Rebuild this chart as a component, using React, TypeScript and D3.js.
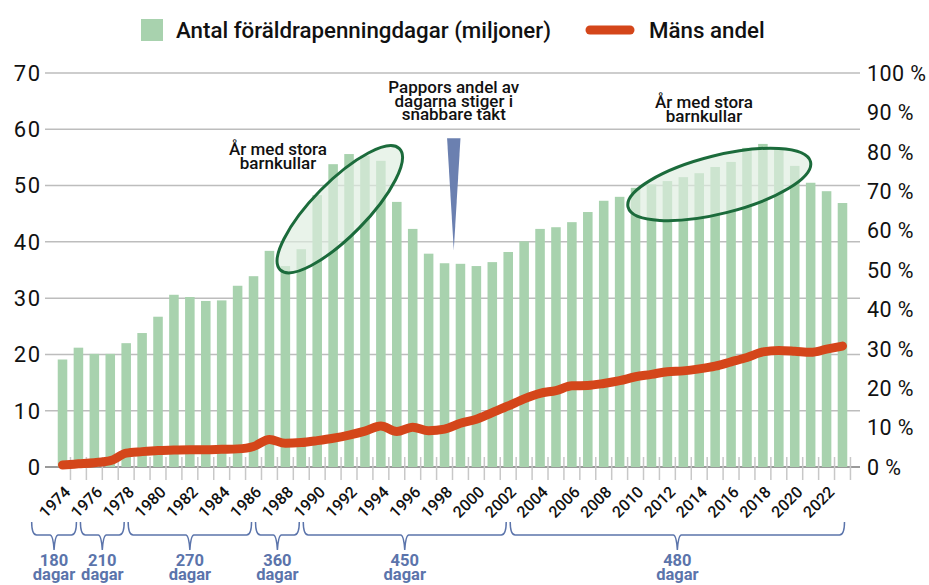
import React from "react";
import * as d3 from "d3";

// år på x-axeln
const years = [
  1974, 1975, 1976, 1977, 1978, 1979, 1980, 1981, 1982, 1983,
  1984, 1985, 1986, 1987, 1988, 1989, 1990, 1991, 1992, 1993,
  1994, 1995, 1996, 1997, 1998, 1999, 2000, 2001, 2002, 2003,
  2004, 2005, 2006, 2007, 2008, 2009, 2010, 2011, 2012, 2013,
  2014, 2015, 2016, 2017, 2018, 2019, 2020, 2021, 2022, 2023,
];

// antal föräldrapenningdagar, miljoner
const dagar = [
  19.1, 21.2, 20.1, 20.1, 22.0, 23.8, 26.7, 30.6, 30.2, 29.5,
  29.6, 32.2, 33.9, 38.4, 35.7, 38.7, 48.3, 53.8, 55.6, 55.3,
  54.4, 47.1, 42.3, 37.9, 36.2, 36.1, 35.7, 36.4, 38.2, 40.1,
  42.3, 42.6, 43.5, 45.3, 47.3, 48.0, 49.6, 50.2, 50.8, 51.5,
  52.2, 53.3, 54.2, 56.7, 57.4, 56.7, 53.5, 50.5, 49.0, 46.9,
];

// männens andel, procent
const mansAndel = [
  0.5, 0.8, 1.1, 1.6, 3.5, 3.9, 4.2, 4.3, 4.4, 4.4,
  4.5, 4.6, 5.2, 7.0, 6.0, 6.2, 6.7, 7.3, 8.1, 9.1,
  10.4, 9.0, 10.1, 9.2, 9.6, 11.1, 12.1, 13.8, 15.5, 17.3,
  18.7, 19.4, 20.6, 20.7, 21.2, 21.9, 22.9, 23.5, 24.2, 24.4,
  24.9, 25.6, 26.7, 27.8, 29.2, 29.6, 29.4, 29.1, 29.9, 30.7,
];

const leftTicks = [0, 10, 20, 30, 40, 50, 60, 70];
const rightTicks = [0, 10, 20, 30, 40, 50, 60, 70, 80, 90, 100];

// perioder med antal dagar (gränser i år)
const periodGranser = [1972, 1975, 1978, 1986, 1989, 2002, 2023];
const periodDagar = [180, 210, 270, 360, 450, 480];

const W = 929;
const H = 585;
const FONT = "Roboto, 'Liberation Sans', Arial, sans-serif";
const BAR = "#a8d2ae";
const ORANGE = "#d4461a";
const BLUE = "#5b74ab";
const DARKGREEN = "#1b6b3b";

export default function App() {
  const x = d3
    .scaleBand<number>()
    .domain(years)
    .range([45, 860])
    .paddingInner(0.4)
    .paddingOuter(0.8);
  const bw = x.bandwidth();
  const step = x.step();
  const xc = (yr: number) => (x(yr) as number) + bw / 2;
  const xYear = d3
    .scaleLinear()
    .domain([years[0], years[years.length - 1]])
    .range([xc(years[0]), xc(years[years.length - 1])]);

  const yL = d3.scaleLinear().domain([0, 70]).range([467, 73]);
  const yR = d3.scaleLinear().domain([0, 100]).range([467, 73]);

  const line = d3
    .line<number>()
    .x((_, i) => xc(years[i]))
    .y((d) => yR(d))
    .curve(d3.curveMonotoneX);

  const tickXs = years.map((yr) => (x(yr) as number) + bw + (step - bw) / 2);

  const brace = (x1: number, x2: number) => {
    const yt = 522, ym = 535, yb = 550;
    const m = (x1 + x2) / 2;
    return `M${x1},${yt} C${x1},${ym - 5} ${x1 + 1},${ym} ${x1 + 5},${ym}
      L${m - 4},${ym} Q${m - 1},${ym} ${m},${yb} Q${m + 1},${ym} ${m + 4},${ym}
      L${x2 - 5},${ym} C${x2 - 1},${ym} ${x2},${ym - 5} ${x2},${yt}`;
  };

  // annotationer i dataenheter
  const ell1 = { cx: xYear(1991.42), cy: yL(45.8) };
  const ell2 = { cx: xYear(2015.26), cy: yL(50.2) };
  const wedgeX = xYear(1998.58);

  return (
    <svg
      width={W}
      height={H}
      style={{ position: "absolute", left: 0, top: 0, background: "#fff" }}
      fontFamily={FONT}
    >
      {/* legend */}
      <rect x={141} y={19} width={22} height={22} fill={BAR} />
      <text x={176} y={38} fontSize={22.3} fontWeight={500} fill="#111">
        Antal föräldrapenningdagar (miljoner)
      </text>
      <line x1={590} x2={630} y1={30} y2={30} stroke={ORANGE} strokeWidth={9} strokeLinecap="round" />
      <text x={649} y={38} fontSize={22.3} fontWeight={500} fill="#111">
        Mäns andel
      </text>

      {/* rutnät */}
      {leftTicks.map((t) => (
        <line key={"g" + t} x1={45} x2={860} y1={yL(t)} y2={yL(t)}
          stroke={t === 0 ? "#9a9a9a" : "#bdbdbd"} strokeWidth={t === 0 ? 2 : 1.5} />
      ))}
      {leftTicks.map((t) => (
        <text key={"l" + t} x={41.5} y={yL(t)} dy="0.36em" textAnchor="end" fontSize={22}
          letterSpacing={1.5} fill="#111">
          {t}
        </text>
      ))}
      {rightTicks.map((t) => (
        <text key={"r" + t} x={867} y={yR(t)} dy="0.36em" fontSize={21.5} letterSpacing={0.4}
          fill="#111">
          {t + " %"}
        </text>
      ))}

      {/* tickmarks */}
      {tickXs.map((tx, i) => (
        <line key={"t" + i} x1={tx} x2={tx} y1={457} y2={480} stroke="#c8c8c8" strokeWidth={1.5} />
      ))}

      {/* staplar */}
      {years.map((yr, i) => (
        <rect key={yr} x={x(yr)} y={yL(dagar[i])} width={bw} height={yL(0) - yL(dagar[i])} fill={BAR} />
      ))}

      {/* ellipser */}
      <ellipse cx={ell1.cx} cy={ell1.cy} rx={85} ry={27}
        transform={`rotate(-45.5 ${ell1.cx} ${ell1.cy})`}
        fill="rgb(222,237,224)" fillOpacity={0.67} stroke={DARKGREEN} strokeWidth={3} />
      <ellipse cx={ell2.cx} cy={ell2.cy} rx={94} ry={29}
        transform={`rotate(-14 ${ell2.cx} ${ell2.cy})`}
        fill="rgb(222,237,224)" fillOpacity={0.67} stroke={DARKGREEN} strokeWidth={3} />

      {/* linje */}
      <path d={line(mansAndel) as string} fill="none" stroke={ORANGE} strokeWidth={9}
        strokeLinecap="round" strokeLinejoin="round" />

      {/* kil */}
      <path d={`M${wedgeX - 6.7},${yL(58.4)} L${wedgeX + 6.7},${yL(58.4)} L${wedgeX},${yL(38.5)} Z`} fill="#6b80b0" />

      {/* annotationstext */}
      <g fontSize={17} fontWeight={500} fill="#111" textAnchor="middle">
        <text x={wedgeX} y={93}>Pappors andel av</text>
        <text x={wedgeX} y={106.5}>dagarna stiger i</text>
        <text x={wedgeX} y={120}>snabbare takt</text>
        <text x={278} y={155}>År med stora</text>
        <text x={278} y={168.5}>barnkullar</text>
        <text x={704} y={108}>År med stora</text>
        <text x={704} y={121.5}>barnkullar</text>
      </g>

      {/* årsetiketter */}
      {years.filter((yr) => yr % 2 === 0).map((yr) => (
        <text key={"y" + yr} transform={`translate(${xc(yr) + 5},489) rotate(-45)`}
          dy="0.35em" textAnchor="end" fontSize={16} fontWeight={500} fill="#111">
          {yr}
        </text>
      ))}

      {/* klamrar */}
      {periodDagar.map((d, i) => {
        const x1 = xYear(periodGranser[i]) + (i === 0 ? 1 : 2);
        const x2 = xYear(periodGranser[i + 1]) - (i === periodDagar.length - 1 ? -2 : 2);
        const m = (x1 + x2) / 2;
        return (
          <g key={"p" + d}>
            <path d={brace(x1, x2)} fill="none" stroke={BLUE} strokeWidth={1.5} />
            <text x={m} y={566} textAnchor="middle" fontSize={16.5} fontWeight={700} fill={BLUE}>{d}</text>
            <text x={m} y={580} textAnchor="middle" fontSize={16.5} fontWeight={700} fill={BLUE}>dagar</text>
          </g>
        );
      })}
    </svg>
  );
}
